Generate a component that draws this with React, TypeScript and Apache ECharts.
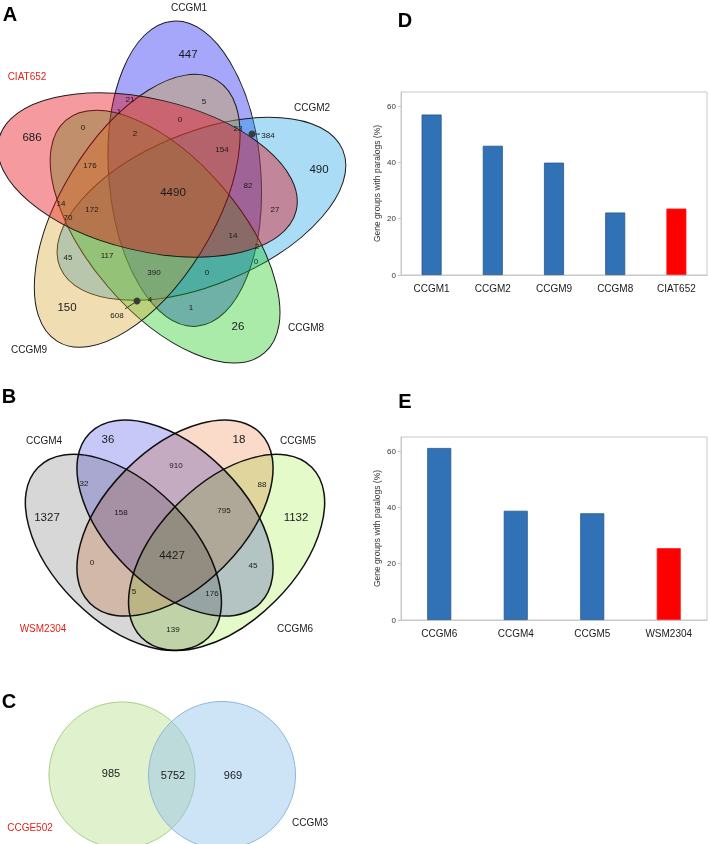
import React, { useEffect, useRef } from 'react';
import * as echarts from 'echarts';

const FONT = '"Liberation Sans", Arial, Helvetica, sans-serif';

// ---------- Panel D (bar chart) ----------
const dCategories = ['CCGM1', 'CCGM2', 'CCGM9', 'CCGM8', 'CIAT652'];
const dValues = [57.0, 45.9, 39.9, 22.2, 23.6];
const dHighlight = 'CIAT652';

// ---------- Panel E (bar chart) ----------
const eCategories = ['CCGM6', 'CCGM4', 'CCGM5', 'WSM2304'];
const eValues = [61.1, 38.8, 37.9, 25.5];
const eHighlight = 'WSM2304';

const yAxisMax = 65;
const yAxisStep = 20;
const yAxisTitle = 'Gene groups with paralogs (%)';

// ---------- Panel A (5-set Venn) ----------
const aSets = ['CIAT652', 'CCGM1', 'CCGM2', 'CCGM8', 'CCGM9'];
const aCounts = [686, 447, 490, 26, 150, 4490, 21, 5, 1, 0, 0, 2, 23, 384, 154, 176, 82, 27, 14, 70, 172, 14, 2, 45, 117, 390, 0, 0, 4, 608, 1];

// ---------- Panel B (4-set Venn) ----------
const bSets = ['WSM2304', 'CCGM4', 'CCGM5', 'CCGM6'];
const bCounts = [36, 18, 1327, 1132, 4427, 910, 32, 88, 158, 795, 0, 45, 5, 176, 139];

// ---------- Panel C (2-set Venn) ----------
const cSets = ['CCGE502', 'CCGM3'];
const cCounts = [985, 5752, 969];

// ---------- layout (positions, sizes, styles) ----------
const aLabelPos: number[][] = [
  [32, 137], [188, 54], [319, 169], [238, 326], [67, 307], [173, 192],
  [130, 99], [204, 101], [119, 111], [83, 127], [180, 119], [135, 133], [238, 128], [268, 135],
  [222, 149], [90, 165], [248, 185], [275, 209], [61, 203], [68, 217], [92, 209],
  [233, 235], [257, 246], [68, 257], [107, 255], [154, 272], [207, 272], [256, 261],
  [150, 299], [117, 315], [191, 307],
];
const aBigCount = 6;
const aSetLabelPos: number[][] = [[27, 76], [189, 7], [312, 107], [306, 327], [29, 349]];
const aColors = [
  'rgba(230,5,18,0.4)',
  'rgba(0,0,240,0.35)',
  'rgba(12,155,226,0.35)',
  'rgba(12,198,12,0.35)',
  'rgba(212,161,35,0.35)',
];
const aDrawOrder = [1, 2, 3, 4, 0];
const aCenter = [167, 200];
const aBaseOffset = [-19.5, -25];
const aBaseAngle = 13.5;
const aNudge: number[][] = [[0, 0], [0, 0], [4, 0], [-3, 5], [0, 0]];
const aRx = 153;
const aRy = 76;

const bLabelPos: number[][] = [
  [108, 439], [239, 439], [47, 517], [296, 517], [172, 555],
  [176, 465], [84, 483], [262, 484], [121, 512], [224, 510], [92, 562], [253, 565], [134, 591], [212, 593], [173, 629],
];
const bBigCount = 5;
const bSetLabelPos: number[][] = [[43, 628], [44, 440], [298, 440], [295, 628]];
const bColors = ['#d7d7d7', '#c8c8f8', '#fadac8', '#e4fac8'];
const bScale = 344;
const bCx = 175;
const bTop = 420;
const bEllipses = [
  { u: 0.35, v: 0.47, ang: 45 },
  { u: 0.5, v: 0.57, ang: 45 },
  { u: 0.5, v: 0.57, ang: -45 },
  { u: 0.65, v: 0.47, ang: -45 },
];

const cCircles = [
  { x: 122, y: 775, r: 73, fill: 'rgba(180,222,135,0.42)', stroke: '#a9cf8a' },
  { x: 222, y: 775, r: 73.5, fill: 'rgba(145,192,236,0.45)', stroke: '#8fb8dc' },
];
const cLabelPos: number[][] = [[111, 773], [173, 775], [233, 775]];
const cSetLabelPos: number[][] = [[30, 827], [310, 822]];

const RED_TEXT = '#e3231c';
const TEXT = '#1a1a1a';

function hexToRgb(h: string) {
  const n = parseInt(h.slice(1), 16);
  return `rgb(${(n >> 16) & 255},${(n >> 8) & 255},${n & 255})`;
}
const multiplyCss = bColors
  .map((c) => {
    const rgb = hexToRgb(c);
    return `[fill="${c}"],[fill="${c.toUpperCase()}"],[fill="${rgb}"],[fill="${rgb.replace(/,/g, ', ')}"]`;
  })
  .join(',') + '{mix-blend-mode:multiply;}';

function txt(text: string, x: number, y: number, size: number, color = TEXT, align = 'center', weight = 'normal') {
  return {
    type: 'text',
    x,
    y,
    silent: true,
    z: 100,
    style: {
      text,
      fill: color,
      fontSize: size,
      fontFamily: FONT,
      fontWeight: weight,
      textAlign: align,
      textVerticalAlign: 'middle',
      verticalAlign: 'middle',
    },
  };
}

function rot(p: number[], deg: number) {
  const t = (deg * Math.PI) / 180;
  return [p[0] * Math.cos(t) - p[1] * Math.sin(t), p[0] * Math.sin(t) + p[1] * Math.cos(t)];
}

function buildGraphic() {
  const els: any[] = [];
  // Panel A ellipses
  aDrawOrder.forEach((k) => {
    const off = rot(aBaseOffset, 72 * k);
    const cx = aCenter[0] + off[0] + aNudge[k][0];
    const cy = aCenter[1] + off[1] + aNudge[k][1];
    const ang = aBaseAngle + 72 * k;
    els.push({
      type: 'ellipse',
      x: cx,
      y: cy,
      rotation: (-ang * Math.PI) / 180,
      silent: true,
      z: 10,
      shape: { cx: 0, cy: 0, rx: aRx, ry: aRy },
      style: { fill: aColors[k], stroke: '#1c1c1c', lineWidth: 1 },
    });
  });
  aCounts.forEach((c, i) => {
    const p = aLabelPos[i];
    els.push(txt(String(c), p[0], p[1], i < aBigCount ? 11.5 : 8));
  });
  aSets.forEach((s, i) => {
    const p = aSetLabelPos[i];
    els.push(txt(s, p[0], p[1], 10, i === 0 ? RED_TEXT : TEXT));
  });
  // leader dots
  els.push({ type: 'circle', x: 252, y: 134, silent: true, z: 101, shape: { cx: 0, cy: 0, r: 3.5 }, style: { fill: '#3a3a3a' } });
  els.push({ type: 'line', silent: true, z: 101, shape: { x1: 252, y1: 134, x2: 260, y2: 134 }, style: { stroke: '#3a3a3a', lineWidth: 1 } });
  els.push({ type: 'circle', x: 137, y: 301, silent: true, z: 101, shape: { cx: 0, cy: 0, r: 3.5 }, style: { fill: '#3a3a3a' } });
  els.push({ type: 'line', silent: true, z: 101, shape: { x1: 137, y1: 301, x2: 125, y2: 309 }, style: { stroke: '#3a3a3a', lineWidth: 1 } });

  // Panel B ellipses (colours multiplied through CSS)
  bEllipses.forEach((e, k) => {
    const cx = bCx + (e.u - 0.5) * bScale;
    const cy = bTop + (0.855 - e.v) * bScale;
    els.push({
      type: 'ellipse',
      x: cx,
      y: cy,
      rotation: (-e.ang * Math.PI) / 180,
      silent: true,
      z: 10,
      shape: { cx: 0, cy: 0, rx: 0.35 * bScale, ry: 0.2 * bScale },
      style: { fill: bColors[k], stroke: '#111', lineWidth: 1.5 },
    });
  });
  bCounts.forEach((c, i) => {
    const p = bLabelPos[i];
    els.push(txt(String(c), p[0], p[1], i < bBigCount ? 11.5 : 8));
  });
  bSets.forEach((s, i) => {
    const p = bSetLabelPos[i];
    els.push(txt(s, p[0], p[1], 10, i === 0 ? RED_TEXT : TEXT));
  });

  // Panel C circles
  cCircles.forEach((c) => {
    els.push({
      type: 'circle',
      x: c.x,
      y: c.y,
      silent: true,
      z: 10,
      shape: { cx: 0, cy: 0, r: c.r },
      style: { fill: c.fill, stroke: c.stroke, lineWidth: 1 },
    });
  });
  cCounts.forEach((c, i) => {
    const p = cLabelPos[i];
    els.push(txt(String(c), p[0], p[1], 11));
  });
  cSets.forEach((s, i) => {
    const p = cSetLabelPos[i];
    els.push(txt(s, p[0], p[1], 10, i === 0 ? RED_TEXT : TEXT));
  });

  // Panel letters
  els.push(txt('A', 10, 14, 20, '#000', 'center', 'bold'));
  els.push(txt('B', 9, 396, 20, '#000', 'center', 'bold'));
  els.push(txt('C', 9, 701, 20, '#000', 'center', 'bold'));
  els.push(txt('D', 405, 20, 20, '#000', 'center', 'bold'));
  els.push(txt('E', 405, 401, 20, '#000', 'center', 'bold'));
  return els;
}

function barData(cats: string[], vals: number[], hl: string) {
  return vals.map((v, i) => ({
    value: v,
    itemStyle: {
      color: cats[i] === hl ? '#ff0000' : '#3172b6',
      borderColor: cats[i] === hl ? '#ff1a1a' : '#24578c',
      borderWidth: 0.8,
    },
  }));
}

function xAxisCfg(cats: string[], gridIndex: number) {
  return {
    type: 'category',
    gridIndex,
    data: cats,
    axisLine: { show: true, lineStyle: { color: '#c8c8c8', width: 1 } },
    axisTick: { show: false },
    axisLabel: { fontSize: 10, color: TEXT, fontFamily: FONT, margin: 8 },
    splitLine: { show: false },
  };
}

function yAxisCfg(gridIndex: number) {
  return {
    type: 'value',
    gridIndex,
    min: 0,
    max: yAxisMax,
    interval: yAxisStep,
    name: yAxisTitle,
    nameLocation: 'middle',
    nameGap: 20,
    nameTextStyle: { fontSize: 8.5, color: '#333', fontFamily: FONT },
    axisLine: { show: true, lineStyle: { color: '#c8c8c8', width: 1 } },
    axisTick: { show: true, length: 3, lineStyle: { color: '#c8c8c8' } },
    axisLabel: { fontSize: 8, color: '#333', fontFamily: FONT, margin: 5, showMaxLabel: false },
    splitLine: { show: false },
  };
}

function buildOption() {
  return {
    animation: false,
    backgroundColor: '#ffffff',
    grid: [
      { left: 401, right: 2, top: 92, bottom: 844 - 275, show: true, borderColor: '#c8c8c8', borderWidth: 1 },
      { left: 401, right: 2, top: 437, bottom: 844 - 620, show: true, borderColor: '#c8c8c8', borderWidth: 1 },
    ],
    xAxis: [xAxisCfg(dCategories, 0), xAxisCfg(eCategories, 1)],
    yAxis: [yAxisCfg(0), yAxisCfg(1)],
    series: [
      { type: 'bar', xAxisIndex: 0, yAxisIndex: 0, barWidth: 20, silent: true, data: barData(dCategories, dValues, dHighlight) },
      { type: 'bar', xAxisIndex: 1, yAxisIndex: 1, barWidth: 24, silent: true, data: barData(eCategories, eValues, eHighlight) },
    ],
    graphic: { elements: buildGraphic() },
  };
}

export default function App() {
  const ref = useRef<HTMLDivElement>(null);
  useEffect(() => {
    const chart = echarts.init(ref.current as HTMLDivElement, null, { renderer: 'svg' });
    chart.setOption(buildOption() as any);
    return () => chart.dispose();
  }, []);
  return (
    <>
      <style>{multiplyCss}</style>
      <div
        ref={ref}
        style={{ position: 'absolute', left: 0, top: 0, width: 709, height: 844, background: '#fff' }}
      />
    </>
  );
}
